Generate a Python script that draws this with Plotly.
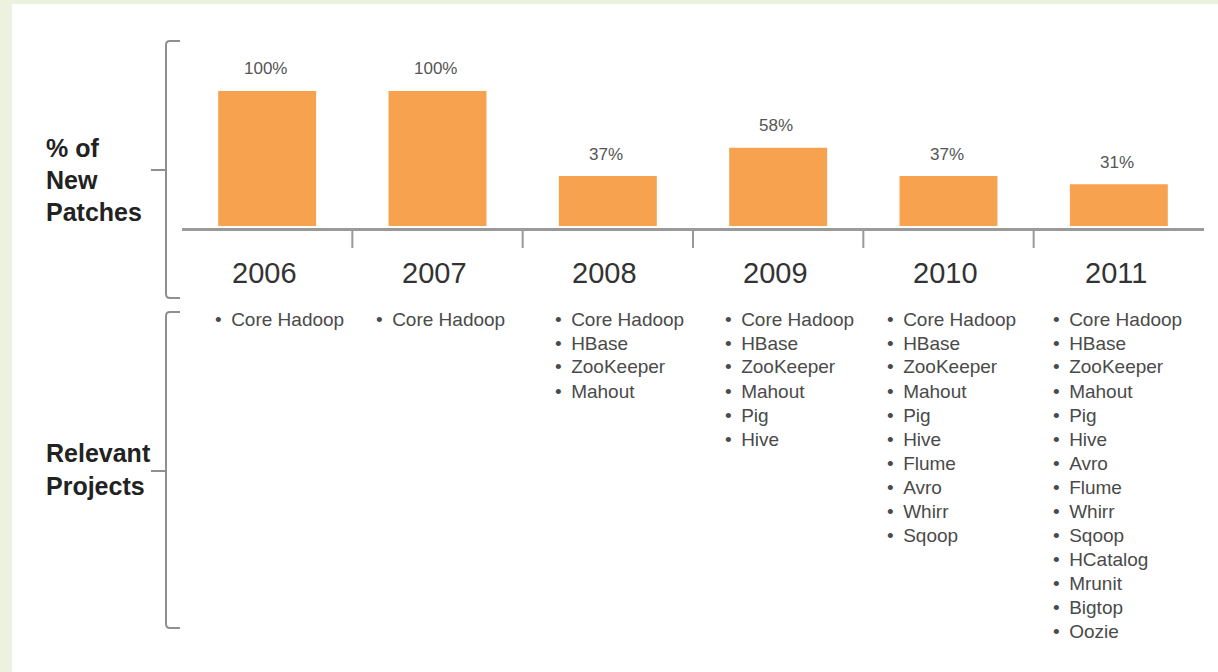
import plotly.graph_objects as go

# ---- data ----
years = ["2006", "2007", "2008", "2009", "2010", "2011"]
pct_new_patches = [100, 100, 37, 58, 37, 31]
pct_labels = ["100%", "100%", "37%", "58%", "37%", "31%"]
projects_2006 = ["Core Hadoop"]
projects_2007 = ["Core Hadoop"]
projects_2008 = ["Core Hadoop", "HBase", "ZooKeeper", "Mahout"]
projects_2009 = ["Core Hadoop", "HBase", "ZooKeeper", "Mahout", "Pig", "Hive"]
projects_2010 = ["Core Hadoop", "HBase", "ZooKeeper", "Mahout", "Pig", "Hive",
                 "Flume", "Avro", "Whirr", "Sqoop"]
projects_2011 = ["Core Hadoop", "HBase", "ZooKeeper", "Mahout", "Pig", "Hive",
                 "Avro", "Flume", "Whirr", "Sqoop", "HCatalog", "Mrunit",
                 "Bigtop", "Oozie"]
projects = [projects_2006, projects_2007, projects_2008,
            projects_2009, projects_2010, projects_2011]

# ---- layout constants ----
W, H = 1218, 672
FONT = "Liberation Sans, Arial, sans-serif"
BAR_COLOR = "#F6A24E"
GRAY_LINE = "#8f8f8f"
BG_GREEN = "#edf1e0"
bullet_xshift = [-54, -64, -55, -55, -64, -68]


def px(x):
    return x / W


def py(y):
    return 1 - y / H


fig = go.Figure()
fig.add_trace(go.Bar(
    x=years, y=pct_new_patches, marker=dict(color=BAR_COLOR, line=dict(width=0)),
    hoverinfo="skip", showlegend=False,
))

annotations = []
# percent labels (x given as category index on the category axis)
for i, (v, lab) in enumerate(zip(pct_new_patches, pct_labels)):
    annotations.append(dict(x=i, y=v, xref="x", yref="y", text=lab,
                            showarrow=False, yanchor="middle", yshift=22,
                            xshift=-2,
                            font=dict(family=FONT, size=17, color="#555555")))
# year labels
for i, yr in enumerate(years):
    annotations.append(dict(x=i, y=py(273), xref="x", yref="paper", text=yr,
                            showarrow=False, yanchor="middle", xshift=-3,
                            font=dict(family=FONT, size=29, color="#333333")))
# project bullet lists
for i, plist in enumerate(projects):
    for j, p in enumerate(plist):
        annotations.append(dict(x=i, y=py(319 + 24 * j), xref="x", yref="paper",
                                text="\u2022\u2002" + p, showarrow=False,
                                xanchor="left", yanchor="middle",
                                xshift=bullet_xshift[i],
                                font=dict(family=FONT, size=19, color="#4a4a4a")))
# left row labels
for txt, yy in [("% of", 148), ("New", 180), ("Patches", 212),
                ("Relevant", 453), ("Projects", 486)]:
    annotations.append(dict(x=px(44), y=py(yy), xref="paper", yref="paper",
                            text="<b>" + txt + "</b>", showarrow=False,
                            xanchor="left", yanchor="middle",
                            font=dict(family=FONT, size=25, color="#222222")))

shapes = []
# white panel over green border
shapes.append(dict(type="rect", xref="paper", yref="paper", x0=px(12), x1=1.0,
                   y0=0, y1=py(4), fillcolor="white", line=dict(width=0),
                   layer="below"))


def bracket(top, bottom, mid):
    r = 4
    path = (f"M {px(180)},{py(top)} L {px(166 + r)},{py(top)} "
            f"Q {px(166)},{py(top)} {px(166)},{py(top + r)} "
            f"L {px(166)},{py(bottom - r)} "
            f"Q {px(166)},{py(bottom)} {px(166 + r)},{py(bottom)} "
            f"L {px(180)},{py(bottom)}")
    shapes.append(dict(type="path", xref="paper", yref="paper", path=path,
                       line=dict(color=GRAY_LINE, width=2)))
    shapes.append(dict(type="line", xref="paper", yref="paper",
                       x0=px(151), x1=px(166), y0=py(mid), y1=py(mid),
                       line=dict(color=GRAY_LINE, width=2)))


bracket(41, 298, 170)
bracket(312, 628, 471)

# separator ticks between categories
for i in range(len(years) - 1):
    shapes.append(dict(type="line", xref="x", yref="paper", x0=i + 0.5, x1=i + 0.5,
                       y0=py(231), y1=py(248),
                       line=dict(color="#999999", width=2)))

fig.update_layout(
    width=W, height=H, autosize=False,
    margin=dict(l=0, r=0, t=0, b=0, pad=0),
    paper_bgcolor=BG_GREEN, plot_bgcolor="rgba(0,0,0,0)",
    bargap=0.425, showlegend=False,
    xaxis=dict(type="category", range=[-0.5, 5.5], domain=[px(182), px(1204)],
               showline=True, linecolor="#9a9a9a", linewidth=3,
               showticklabels=False, ticks="", showgrid=False, zeroline=False,
               fixedrange=True),
    yaxis=dict(range=[-1.5, 100], domain=[py(228), py(91)], visible=False,
               showgrid=False, zeroline=False, fixedrange=True),
    annotations=annotations, shapes=shapes,
)

fig.write_html("out.html", config={"displayModeBar": False})
